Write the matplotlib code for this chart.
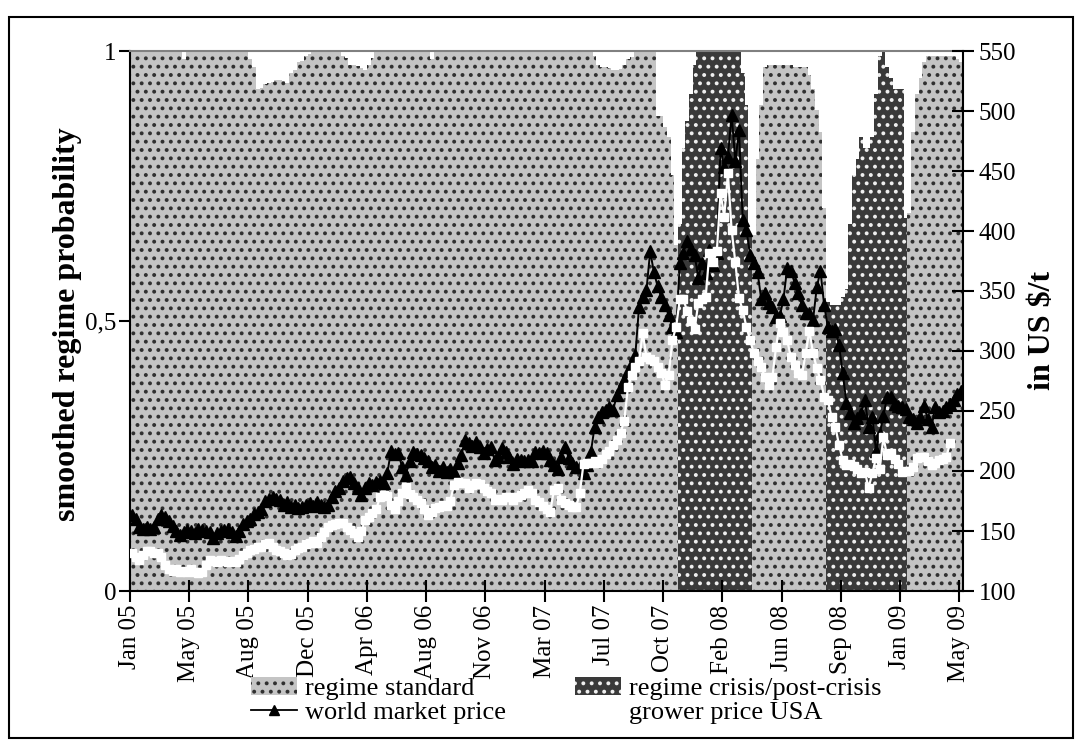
import numpy as np
import matplotlib.pyplot as plt
from matplotlib.patches import Rectangle, Patch
from matplotlib.lines import Line2D

plt.rcParams['font.family'] = ['Liberation Serif', 'DejaVu Serif']
plt.rcParams['hatch.linewidth'] = 1.6

# weekly observations, Jan 2005 - Jun 2009
tick_labels = ["Jan 05", "May 05", "Aug 05", "Dec 05", "Apr 06", "Aug 06", "Nov 06",
               "Mar 07", "Jul 07", "Oct 07", "Feb 08", "Jun 08", "Sep 08", "Jan 09", "May 09"]

# smoothed probability of the standard regime
standard = [
    1, 1, 1, 1, 1, 1, 1, 1, 1, 1,
    1, 1, 1, 1, 0.985, 1, 1, 1, 1, 1,
    1, 1, 1, 1, 1, 1, 1, 1, 1, 1,
    1, 1, 0.985, 0.97, 0.93, 0.932, 0.938, 0.94, 0.942, 0.946,
    0.947, 0.945, 0.94, 0.96, 0.965, 0.98, 0.982, 0.99, 0.995, 1,
    1, 1, 1, 1, 1, 1, 1, 0.99, 0.987, 0.975,
    0.974, 0.972, 0.968, 0.965, 0.975, 0.987, 1, 1, 1, 1,
    1, 1, 1, 1, 1, 1, 1, 1, 1, 1,
    1, 0.985, 1, 1, 1, 1, 1, 1, 1, 1,
    1, 1, 1, 1, 1, 1, 1, 1, 1, 1,
    1, 1, 1, 1, 1, 1, 1, 1, 1, 1,
    1, 1, 1, 1, 1, 1, 1, 1, 1, 1,
    1, 1, 1, 1, 1, 0.99, 0.975, 0.97, 0.97, 0.968,
    0.965, 0.965, 0.966, 0.975, 0.985, 0.988, 1, 1, 1, 1,
    1, 1, 0.88, 0.88, 0.86, 0.84, 0.77, 0.64, 0, 0,
    0, 0, 0, 0, 0, 0, 0, 0, 0, 0,
    0, 0, 0, 0, 0, 0, 0, 0, 0.66, 0.80,
    0.90, 0.97, 0.975, 0.975, 0.975, 0.975, 0.975, 0.975, 0.975, 0.97,
    0.97, 0.97, 0.97, 0.955, 0.93, 0.89, 0.85, 0.71, 0, 0,
    0, 0, 0, 0, 0, 0, 0, 0, 0, 0,
    0, 0, 0, 0, 0, 0, 0, 0, 0, 0,
    0.70, 0.85, 0.92, 0.95, 0.98, 0.99, 0.99, 0.99, 0.99, 0.99,
    0.99, 0.99, 0.99, 0.985, 0.98,
]

# smoothed probability of the crisis / post-crisis regime
crisis = [
    0, 0, 0, 0, 0, 0, 0, 0, 0, 0,
    0, 0, 0, 0, 0, 0, 0, 0, 0, 0,
    0, 0, 0, 0, 0, 0, 0, 0, 0, 0,
    0, 0, 0, 0, 0, 0, 0, 0, 0, 0,
    0, 0, 0, 0, 0, 0, 0, 0, 0, 0,
    0, 0, 0, 0, 0, 0, 0, 0, 0, 0,
    0, 0, 0, 0, 0, 0, 0, 0, 0, 0,
    0, 0, 0, 0, 0, 0, 0, 0, 0, 0,
    0, 0, 0, 0, 0, 0, 0, 0, 0, 0,
    0, 0, 0, 0, 0, 0, 0, 0, 0, 0,
    0, 0, 0, 0, 0, 0, 0, 0, 0, 0,
    0, 0, 0, 0, 0, 0, 0, 0, 0, 0,
    0, 0, 0, 0, 0, 0, 0, 0, 0, 0,
    0, 0, 0, 0, 0, 0, 0, 0, 0, 0,
    0, 0, 0, 0, 0, 0, 0, 0, 0.68, 0.82,
    0.87, 0.92, 0.975, 1, 1, 1, 1, 1, 1, 1,
    1, 1, 1, 1, 1, 0.96, 0.9, 0.66, 0, 0,
    0, 0, 0, 0, 0, 0, 0, 0, 0, 0,
    0, 0, 0, 0, 0, 0, 0, 0, 0.535, 0.53,
    0.53, 0.53, 0.545, 0.56, 0.68, 0.77, 0.80, 0.84, 0.82, 0.82,
    0.84, 0.92, 0.99, 1, 0.97, 0.95, 0.93, 0.93, 0.93, 0.69,
    0, 0, 0, 0, 0, 0, 0, 0, 0, 0,
    0, 0, 0, 0, 0,
]

# world market price, US $/t
world_price = [
    163, 160, 153, 152, 153, 152, 153, 160, 163, 162,
    158, 154, 150, 147, 149, 151, 150, 148, 152, 151,
    150, 149, 144, 148, 150, 151, 152, 149, 146, 150,
    156, 158, 160, 164, 166, 168, 175, 177, 178, 177,
    176, 172, 174, 170, 172, 169, 170, 172, 173, 171,
    174, 172, 170, 172, 178, 183, 186, 192, 194, 195,
    190, 186, 180, 186, 190, 188, 191, 192, 190, 198,
    217, 214, 215, 203, 197, 208, 216, 214, 213, 211,
    208, 203, 205, 200, 203, 199, 202, 199, 207, 213,
    226, 223, 221, 224, 220, 215, 218, 220, 209, 212,
    219, 216, 212, 206, 210, 209, 208, 209, 208, 216,
    215, 217, 215, 209, 205, 202, 212, 220, 211, 207,
    203, 203, 198, 205, 216, 237, 245, 249, 251, 253,
    251, 263, 270, 276, 283, 290, 297, 337, 345, 351,
    383, 366, 354, 345, 338, 330, 320, 316, 373, 382,
    392, 385, 380, 361, 373, 365, 384, 372, 382, 469,
    453, 462, 497, 458, 484, 409, 401, 380, 373, 366,
    343, 348, 340, 337, 328, 329, 343, 369, 367, 357,
    348, 338, 332, 332, 326, 353, 367, 338, 320, 317,
    318, 305, 282, 257, 248, 240, 244, 248, 259, 237,
    245, 217, 231, 246, 262, 262, 256, 254, 253, 252,
    245, 243, 240, 245, 254, 243, 237, 253, 249, 250,
    253, 256, 259, 264, 267,
]

# grower price USA, US $/t
grower_price = [
    132, 128, 126, 130, 133, 133, 132, 132, 128, 122,
    118, 117, 118, 116, 117, 116, 118, 116, 115, 116,
    122, 126, 125, 124, 126, 125, 124, 125, 124, 127,
    130, 132, 134, 135, 137, 137, 139, 140, 137, 134,
    133, 132, 130, 131, 134, 136, 137, 139, 140, 142,
    140, 145, 149, 153, 155, 156, 157, 157, 153, 151,
    148, 145, 150, 159, 162, 165, 168, 178, 180, 179,
    172, 168, 175, 182, 187, 181, 178, 176, 173, 168,
    163, 166, 169, 170, 172, 171, 175, 188, 191, 190,
    190, 186, 188, 190, 189, 186, 183, 182, 176, 177,
    176, 178, 178, 176, 178, 180, 182, 184, 182, 176,
    174, 171, 168, 166, 184, 186, 176, 173, 172, 170,
    170, 182, 206, 207, 207, 208, 207, 210, 214, 217,
    222, 226, 232, 242, 270, 280, 287, 292, 315, 295,
    293, 292, 287, 282, 272, 280, 309, 320, 343, 343,
    333, 325, 318, 340, 343, 345, 382, 374, 383, 432,
    412, 448, 401, 374, 344, 334, 320, 309, 298, 292,
    287, 278, 272, 278, 303, 323, 316, 309, 295, 288,
    282, 280, 298, 317, 298, 286, 276, 262, 259, 245,
    237, 222, 209, 205, 206, 204, 202, 198, 199, 186,
    198, 211, 202, 228, 213, 215, 210, 206, 199, 200,
    200, 203, 211, 212, 212, 208, 205, 207, 209, 210,
    212, 223, np.nan, np.nan, np.nan,
]

n = len(standard)
weeks = np.arange(n)
edges = np.arange(n + 1) - 0.5
std = np.append(standard, standard[-1])
cri = np.append(crisis, crisis[-1])

fig = plt.figure(figsize=(10.81, 7.44), dpi=100)
ax = fig.add_axes([130 / 1081, 1 - 591 / 744, 833 / 1081, 540 / 744])

light_kw = dict(facecolor='#c4c4c4', edgecolor='#303030', hatch='..', linewidth=0)
dark_kw = dict(facecolor='#3a3a3a', edgecolor='#f0f0f0', hatch='..', linewidth=0)
ax.fill_between(edges, 0, std, step='post', **light_kw)
ax.fill_between(edges, std, std + cri, step='post', **dark_kw)

ax.set_xlim(-0.5, n - 0.5)
ax.set_ylim(0, 1)
ax.set_yticks([0, 0.5, 1])
ax.set_yticklabels(['0', '0,5', '1'])
ax.set_xticks(np.arange(len(tick_labels)) * 16 - 0.5)
ax.set_xticklabels(tick_labels, rotation=90)
ax.tick_params(axis='both', labelsize=18, length=8, width=1.5, direction='out', pad=2)
ax.tick_params(axis='x', direction='inout', length=16, pad=2)
for s in ['left', 'bottom']:
    ax.spines[s].set_linewidth(1.5)
ax.spines['top'].set_color('#808080')
ax.spines['top'].set_linewidth(1.5)
ax.spines['right'].set_visible(False)

ax2 = ax.twinx()
ax2.plot(weeks, world_price, color='black', lw=1.4, marker='^', ms=8, mec='black', mfc='black')
ax2.plot(weeks, grower_price, color='white', lw=1.6, marker='s', ms=6, mec='white', mfc='white')
ax2.set_ylim(100, 550)
ax2.set_yticks(np.arange(100, 551, 50))
ax2.tick_params(axis='y', labelsize=18, length=16, width=1.5, direction='inout')
for s in ['left', 'bottom', 'top']:
    ax2.spines[s].set_visible(False)
ax2.spines['right'].set_linewidth(1.5)

fig.text(68 / 1081, 1 - 324 / 744, 'smoothed regime probability', rotation=90,
         ha='center', va='center', fontsize=23, fontweight='bold')
fig.text(1042 / 1081, 1 - 330 / 744, 'in US $/t', rotation=90,
         ha='center', va='center', fontsize=23, fontweight='bold')

handles = [Patch(**light_kw),
           Line2D([], [], color='black', lw=1.3, marker='^', ms=7),
           Patch(**dark_kw),
           Line2D([], [], color='white', lw=1.6, marker='s', ms=6)]
labels = ['regime standard', 'world market price', 'regime crisis/post-crisis', 'grower price USA']
fig.legend(handles, labels, loc='upper left', bbox_to_anchor=(251 / 1081, 1 - 677 / 744),
           ncol=2, frameon=False, fontsize=19, borderpad=0, labelspacing=0.0,
           handlelength=1.75, handletextpad=0.3, columnspacing=2.6, borderaxespad=0)

fig.patches.append(Rectangle((9 / 1081, 6 / 744), 1064 / 1081, 721 / 744, transform=fig.transFigure,
                             fill=False, edgecolor='black', linewidth=1.5))

fig.savefig('out.png', dpi=100)
